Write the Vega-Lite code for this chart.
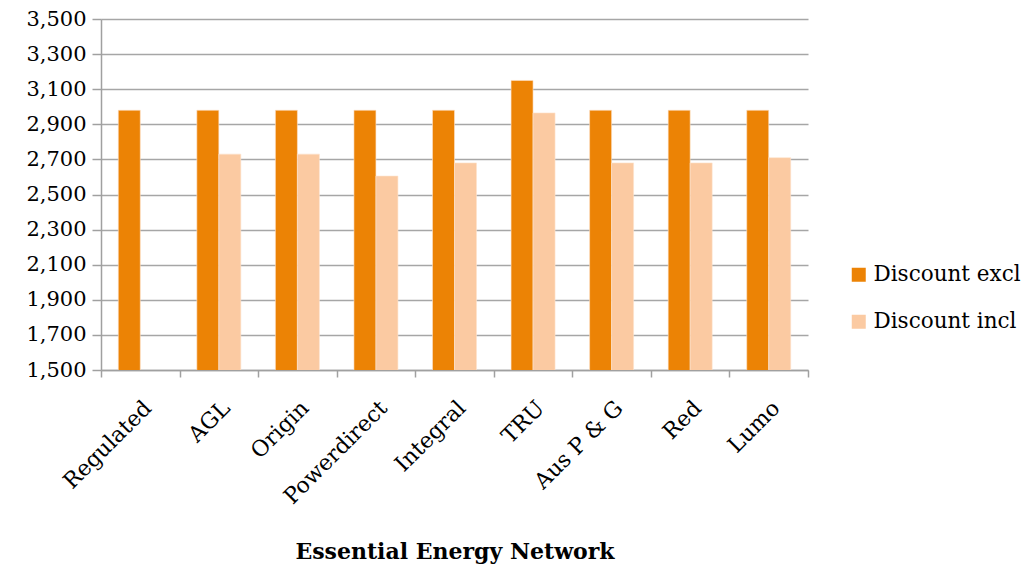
{
  "$schema": "https://vega.github.io/schema/vega-lite/v6.json",
  "autosize": {"type": "none"},
  "padding": {"left": 101, "top": 19, "right": 215, "bottom": 200},
  "width": 707,
  "height": 351,
  "background": "white",
  "config": {
    "font": "DejaVu Serif",
    "view": {"stroke": null}
  },
  "data": {
    "values": [
      {"retailer": "Regulated", "series": "Discount excl", "value": 2980},
      {"retailer": "AGL", "series": "Discount excl", "value": 2980},
      {"retailer": "AGL", "series": "Discount incl", "value": 2730},
      {"retailer": "Origin", "series": "Discount excl", "value": 2980},
      {"retailer": "Origin", "series": "Discount incl", "value": 2730},
      {"retailer": "Powerdirect", "series": "Discount excl", "value": 2980},
      {"retailer": "Powerdirect", "series": "Discount incl", "value": 2605},
      {"retailer": "Integral", "series": "Discount excl", "value": 2980},
      {"retailer": "Integral", "series": "Discount incl", "value": 2680},
      {"retailer": "TRU", "series": "Discount excl", "value": 3150},
      {"retailer": "TRU", "series": "Discount incl", "value": 2965},
      {"retailer": "Aus P & G", "series": "Discount excl", "value": 2980},
      {"retailer": "Aus P & G", "series": "Discount incl", "value": 2680},
      {"retailer": "Red", "series": "Discount excl", "value": 2980},
      {"retailer": "Red", "series": "Discount incl", "value": 2680},
      {"retailer": "Lumo", "series": "Discount excl", "value": 2980},
      {"retailer": "Lumo", "series": "Discount incl", "value": 2710}
    ]
  },
  "mark": {"type": "bar", "clip": true, "stroke": "#FDE3CC", "strokeWidth": 0.6},
  "encoding": {
    "x": {
      "field": "retailer",
      "type": "nominal",
      "sort": null,
      "scale": {"paddingInner": 0, "paddingOuter": 0},
      "axis": {
        "title": "Essential Energy Network",
        "titleFont": "DejaVu Serif",
        "titleFontSize": 22,
        "titleFontWeight": "bold",
        "titleColor": "black",
        "titlePadding": 34,
        "labelAngle": -45,
        "labelFontSize": 22,
        "labelColor": "black",
        "labelPadding": 20,
        "tickBand": "extent",
        "tickSize": 7,
        "tickColor": "#A0A0A0",
        "tickWidth": 1.5,
        "domainColor": "#A0A0A0",
        "domainWidth": 1.5,
        "grid": false
      }
    },
    "xOffset": {
      "field": "series",
      "type": "nominal",
      "scale": {"paddingInner": 0, "paddingOuter": 0.786}
    },
    "y": {
      "field": "value",
      "type": "quantitative",
      "scale": {"domain": [1500, 3500], "zero": false, "nice": false},
      "axis": {
        "title": null,
        "values": [1500, 1700, 1900, 2100, 2300, 2500, 2700, 2900, 3100, 3300, 3500],
        "format": ",d",
        "labelFontSize": 21,
        "labelColor": "black",
        "labelPadding": 6,
        "tickSize": 9,
        "tickColor": "#A0A0A0",
        "tickWidth": 1.5,
        "domainColor": "#A0A0A0",
        "domainWidth": 1.5,
        "gridColor": "#A6A6A6",
        "gridWidth": 1.5
      }
    },
    "color": {
      "field": "series",
      "type": "nominal",
      "scale": {"domain": ["Discount excl", "Discount incl"], "range": ["#EC8305", "#FBCAA2"]},
      "legend": {
        "title": null,
        "orient": "none",
        "legendX": 747,
        "legendY": 245,
        "symbolType": "square",
        "symbolSize": 196,
        "symbolStrokeWidth": 0,
        "labelFontSize": 21.5,
        "labelColor": "black",
        "labelOffset": 4,
        "rowPadding": 24,
        "labelLimit": 300
      }
    }
  }
}
